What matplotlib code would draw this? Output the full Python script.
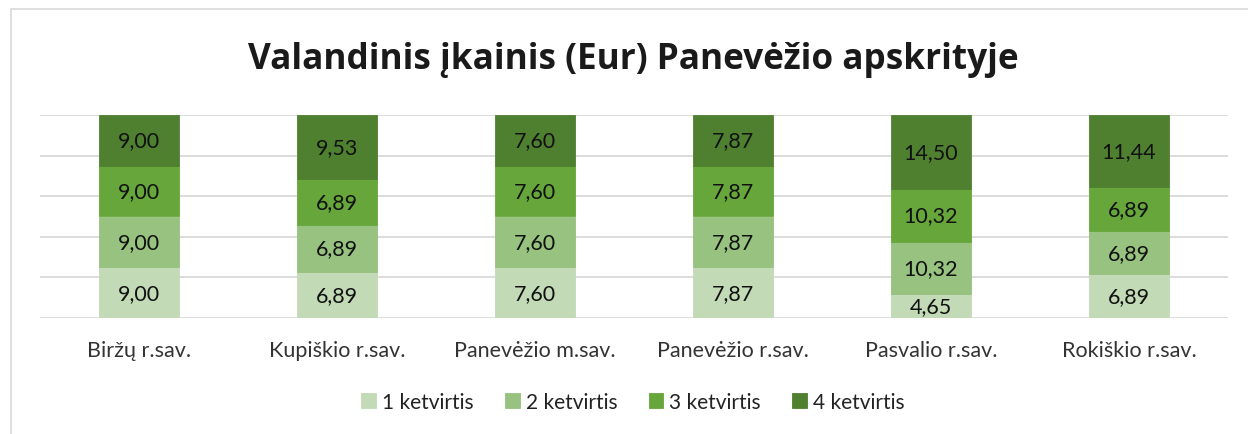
import numpy as np
import matplotlib
matplotlib.use('Agg')
import matplotlib.pyplot as plt
from matplotlib.patches import Rectangle

# --- DATA ---
municipalities = ['Biržų r.sav.', 'Kupiškio r.sav.', 'Panevėžio m.sav.',
                  'Panevėžio r.sav.', 'Pasvalio r.sav.', 'Rokiškio r.sav.']
q1 = [9.00, 6.89, 7.60, 7.87, 4.65, 6.89]
q2 = [9.00, 6.89, 7.60, 7.87, 10.32, 6.89]
q3 = [9.00, 6.89, 7.60, 7.87, 10.32, 6.89]
q4 = [9.00, 9.53, 7.60, 7.87, 14.50, 11.44]
quarter_labels = ['1 ketvirtis', '2 ketvirtis', '3 ketvirtis', '4 ketvirtis']

colors = ['#c3dab7', '#97c27f', '#66a63a', '#4f8030']

plt.rcParams['font.family'] = ['Lato', 'DejaVu Sans']

fig = plt.figure(figsize=(12.48, 4.35), dpi=100)
ax = fig.add_axes([40 / 1248, 1 - 319 / 435, 1188 / 1248, 203 / 435])

# light chart border (left/top visible)
fig.patches.append(Rectangle((11 / 1248, -0.1), 1.2, (435 - 10) / 435 + 0.1,
                             transform=fig.transFigure, fill=False,
                             edgecolor='#d9d9d9', linewidth=1.2))

series = np.array([q1, q2, q3, q4])
totals = series.sum(axis=0)
shares = series / totals * 100
x = np.arange(len(municipalities))

bottom = np.zeros(len(municipalities))
for i in range(4):
    ax.bar(x, shares[i], 0.40, bottom=bottom, color=colors[i],
           edgecolor=colors[i], linewidth=0.6,
           label=quarter_labels[i], zorder=3)
    for j in range(len(x)):
        ax.text(x[j], bottom[j] + shares[i][j] / 2,
                f'{series[i][j]:.2f}'.replace('.', ','),
                ha='center', va='center', fontsize=15.5, color='#111111',
                zorder=4)
    bottom += shares[i]

ax.set_xlim(-0.5, len(x) - 0.5)
ax.set_ylim(0, 100)
ax.set_yticks([0, 20, 40, 60, 80, 100])
ax.set_yticklabels([])
ax.tick_params(axis='y', length=0)
ax.tick_params(axis='x', length=0, pad=16, labelsize=15.5, labelcolor='#333333')
ax.set_xticks(x)
ax.set_xticklabels(municipalities)
ax.grid(axis='y', color='#d9d9d9', linewidth=1.3, zorder=0)
for s in ax.spines.values():
    s.set_visible(False)

fig.text(633 / 1248, 1 - 60 / 435, 'Valandinis įkainis (Eur) Panevėžio apskrityje',
         ha='center', va='center', fontsize=25.3, fontweight='bold',
         color='#1a1a1a', family=['Open Sans', 'DejaVu Sans'])

fig.legend(loc='center', bbox_to_anchor=(633 / 1248, 1 - 403 / 435), ncol=4,
           frameon=False, fontsize=15, handlelength=0.7, handleheight=0.7,
           handletextpad=0.3, columnspacing=1.5, labelcolor='#222222')

fig.savefig('out.png', dpi=100)
